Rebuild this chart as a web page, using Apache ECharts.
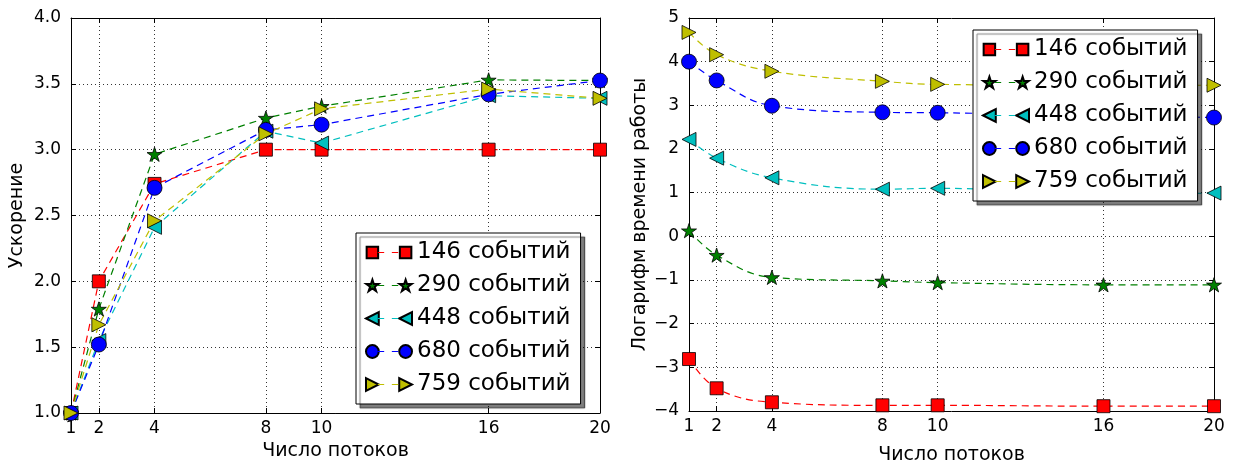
<!DOCTYPE html>
<html><head><meta charset="utf-8">
<script src="https://cdn.jsdelivr.net/npm/echarts@6/dist/echarts.min.js"></script>
<style>html,body{margin:0;padding:0;background:#fff}#c{width:1238px;height:470px}</style>
</head><body><div id="c"></div>
<script>
// ---- data ----
const threads = [1, 2, 4, 8, 10, 16, 20];
const xTickValues = [1, 2, 4, 8, 10, 16, 20];
const seriesNames = ['146 событий', '290 событий', '448 событий', '680 событий', '759 событий'];

const speedup146 = [1.0, 2.0, 2.74, 3.0, 3.0, 3.0, 3.0];
const speedup290 = [1.0, 1.79, 2.965, 3.24, 3.33, 3.53, 3.525];
const speedup448 = [1.0, 1.55, 2.41, 3.14, 3.05, 3.41, 3.39];
const speedup680 = [1.0, 1.52, 2.71, 3.15, 3.19, 3.42, 3.525];
const speedup759 = [1.0, 1.67, 2.46, 3.12, 3.31, 3.46, 3.39];

const logTime146 = [-2.81, -3.48, -3.80, -3.87, -3.87, -3.89, -3.89];
const logTime290 = [0.13, -0.43, -0.94, -1.02, -1.06, -1.11, -1.11];
const logTime448 = [2.22, 1.79, 1.34, 1.08, 1.10, 0.97, 0.99];
const logTime680 = [4.00, 3.57, 2.99, 2.84, 2.83, 2.77, 2.72];
const logTime759 = [4.67, 4.16, 3.78, 3.55, 3.48, 3.46, 3.46];

const speedupSets = [speedup146, speedup290, speedup448, speedup680, speedup759];
const logTimeSets = [logTime146, logTime290, logTime448, logTime680, logTime759];

// ---- styles ----
const FONT = 'DejaVu Sans';
const colors = ['#ff0000', '#008000', '#00bfbf', '#0000ff', '#bfbf00'];

function starPath(cx, cy, r) {
  let d = '';
  for (let k = 0; k < 10; k++) {
    const rr = k % 2 === 0 ? r : r * 0.382;
    const a = k * Math.PI / 5;
    const x = cx + rr * Math.sin(a), y = cy - rr * Math.cos(a);
    d += (k === 0 ? 'M' : 'L') + x.toFixed(3) + ',' + y.toFixed(3);
  }
  return d + 'Z';
}
const symbols = [
  'rect',
  'path://' + starPath(10, 10, 10),
  'path://M0,5L10,0L10,10Z',
  'circle',
  'path://M0,0L10,5L0,10Z'
];
const symbolSizes = [13, 15, 14, 15, 14];

const BOX = 'M0,0L0,0M36,10L36,10';
const legendMarkerIcons = [
  'path://' + BOX + 'M0.5,0.5h9v9h-9zM26.5,0.5h9v9h-9z',
  'path://' + BOX + starPath(5, 5.4, 5.0) + starPath(31, 5.4, 5.0),
  'path://' + BOX + 'M0,5L10,0L10,10ZM26,5L36,0L36,10Z',
  'path://' + BOX + 'M0,5A5,5,0,1,1,10,5A5,5,0,1,1,0,5ZM26,5A5,5,0,1,1,36,5A5,5,0,1,1,26,5Z',
  'path://' + BOX + 'M0,0L10,5L0,10ZM26,0L36,5L26,10Z'
];
const legendDashIcon = 'path://' + BOX + 'M10,4.6h5v0.8h-5zM21,4.6h5v0.8h-5z';

const gridLine = { show: true, lineStyle: { color: '#000', width: 0.8, type: [1, 3] } };
const axisLineStyle = { show: true, onZero: false, lineStyle: { color: '#000', width: 1 } };
const tickStyle = { color: '#000', width: 1 };
const labelText = { color: '#000', fontFamily: FONT, fontSize: 17 };
const nameText = { color: '#000', fontFamily: FONT, fontSize: 19 };
const minusFmt = v => String(v).replace('-', '\u2212');

function xAxes(gridIndex, nameGap) {
  return [
    { gridIndex, type: 'value', min: 1, max: 20, position: 'bottom',
      name: 'Число потоков', nameLocation: 'middle', nameGap, nameTextStyle: nameText,
      axisLine: axisLineStyle,
      axisTick: { inside: true, length: 5, customValues: xTickValues, lineStyle: tickStyle },
      axisLabel: { customValues: xTickValues, margin: 7, ...labelText },
      splitLine: gridLine },
    { gridIndex, type: 'value', min: 1, max: 20, position: 'top',
      axisLine: axisLineStyle,
      axisTick: { inside: true, length: 5, customValues: xTickValues, lineStyle: tickStyle },
      axisLabel: { show: false }, splitLine: { show: false } }
  ];
}
function yAxes(gridIndex, min, max, interval, name, nameGap, fmt) {
  return [
    { gridIndex, type: 'value', min, max, interval, position: 'left',
      name, nameLocation: 'middle', nameGap, nameTextStyle: nameText,
      axisLine: axisLineStyle,
      axisTick: { inside: true, length: 5, lineStyle: tickStyle },
      axisLabel: { formatter: fmt, margin: 10, ...labelText },
      splitLine: gridLine },
    { gridIndex, type: 'value', min, max, interval, position: 'right',
      axisLine: axisLineStyle,
      axisTick: { inside: true, length: 5, lineStyle: tickStyle },
      axisLabel: { show: false }, splitLine: { show: false } }
  ];
}

function makeSeries(sets, xIdx, yIdx, smooth) {
  return sets.map((vals, i) => ({
    type: 'line', name: seriesNames[i], xAxisIndex: xIdx, yAxisIndex: yIdx,
    data: threads.map((t, j) => [t, vals[j]]),
    smooth: smooth,
    symbol: symbols[i], symbolSize: symbolSizes[i], symbolKeepAspect: true,
    lineStyle: { color: colors[i], width: 1.2, type: [7, 5] },
    itemStyle: { color: colors[i], borderColor: '#000', borderWidth: 0.8 },
    clip: false,
    emphasis: { disabled: true }
  }));
}

function legends(left, top) {
  const common = {
    orient: 'vertical', left, top, itemWidth: 46, itemHeight: 13, itemGap: 10,
    itemTextGap: 21, padding: [8, 10, 8, 9], selectedMode: false
  };
  return [
    { ...common, z: 20,
      data: seriesNames.map((n, i) => ({ name: n, icon: legendMarkerIcons[i] })),
      backgroundColor: '#fff', borderColor: '#000', borderWidth: 1,
      shadowColor: 'rgba(0,0,0,0.5)', shadowBlur: 1, shadowOffsetX: 4, shadowOffsetY: 4,
      textStyle: { color: '#000', fontFamily: FONT, fontSize: 23 } },
    { ...common, z: 21,
      data: seriesNames.map(n => ({ name: n, icon: legendDashIcon })),
      itemStyle: { borderWidth: 0 },
      textStyle: { color: 'rgba(0,0,0,0)', fontFamily: FONT, fontSize: 23 } }
  ];
}

const chart = echarts.init(document.getElementById('c'), null, { renderer: 'canvas' });
chart.setOption({
  animation: false,
  backgroundColor: '#fff',
  grid: [
    { left: 71, top: 18, width: 529, height: 395 },
    { left: 689, top: 18, width: 525, height: 405 }
  ],
  xAxis: [...xAxes(0, 29), ...xAxes(1, 35)],
  yAxis: [
    ...yAxes(0, 1, 4, 0.5, 'Ускорение', 44, v => v.toFixed(1)),
    ...yAxes(1, -4, 5, 1, 'Логарифм времени работы', 38, minusFmt)
  ],
  legend: [...legends(356, 233), ...legends(973, 30)],
  series: [
    ...makeSeries(speedupSets, 0, 0, false),
    ...makeSeries(logTimeSets, 2, 2, 0.4)
  ]
});
</script>
</body></html>
